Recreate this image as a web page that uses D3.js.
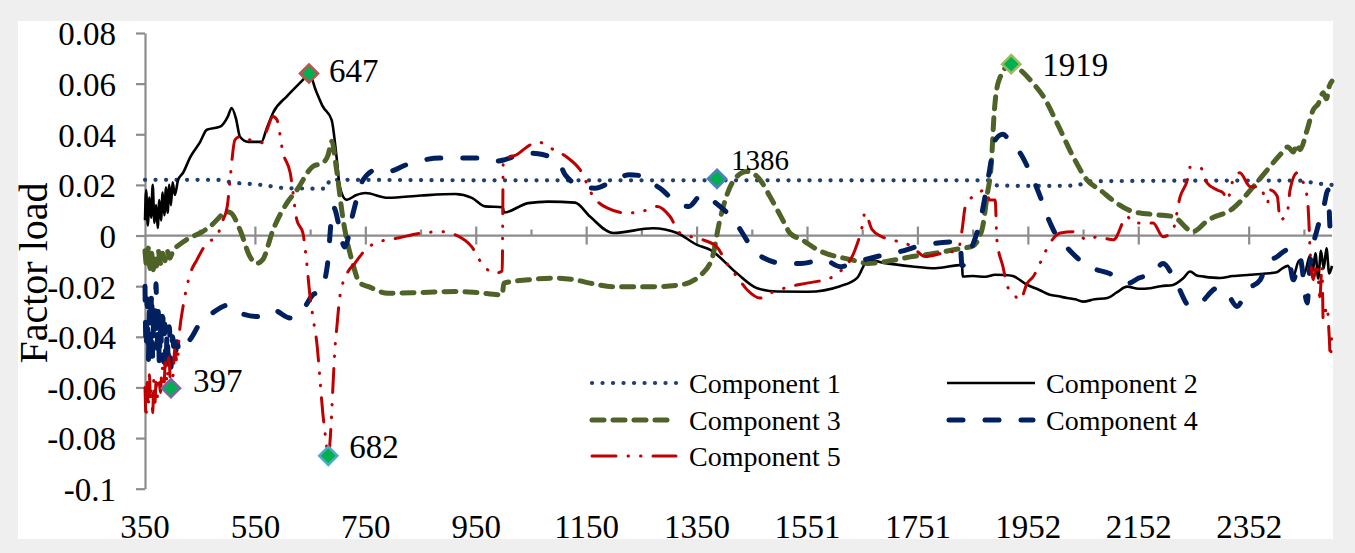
<!DOCTYPE html>
<html>
<head>
<meta charset="utf-8">
<script src="https://cdn.jsdelivr.net/npm/d3@7/dist/d3.min.js"></script>
<style>
  html, body { margin: 0; padding: 0; background: #efefef; }
  svg { display: block; }
  text { font-family: "Liberation Serif", "Times New Roman", serif; fill: #000; }
</style>
</head>
<body>
<script>
// Factor loadings of the five principal components over wavelength (nm)
const component1 = [[350,0.022],[480,0.022],[507,0.021],[561,0.020],[607,0.0187],[680,0.0185],[684,0.022],
  [1000,0.0218],[1400,0.0218],[1880,0.0218],[1893,0.0198],[1950,0.0196],[2038,0.0197],[2056,0.0214],
  [2300,0.0217],[2440,0.0217],[2470,0.0207],[2500,0.0200]];

const component2 = [[350,0.006],[352,0.018],[355,0.004],[358,0.015],[361,0.007],[364,0.020],[367,0.005],
  [370,0.012],[373,0.003],[376,0.014],[379,0.006],[382,0.017],[385,0.008],[388,0.019],[391,0.009],
  [394,0.020],[397,0.012],[400,0.021],[404,0.016],[410,0.022],[419,0.0248],[432,0.031],[450,0.037],
  [462,0.0418],[486,0.043],[500,0.047],[507,0.0504],[515,0.046],[522,0.039],[537,0.037],[561,0.037],
  [570,0.042],[582,0.0485],[607,0.055],[636,0.0615],[647,0.064],[660,0.057],[672,0.051],[688,0.0457],
  [697,0.031],[703,0.019],[715,0.0141],[733,0.016],[749,0.0168],[790,0.0149],[850,0.0158],[912,0.0164],
  [942,0.0149],[966,0.0115],[998,0.0112],[1000,0.0091],[1044,0.0128],[1080,0.0134],[1129,0.013],
  [1156,0.0075],[1198,0.001],[1270,0.0029],[1314,0.001],[1350,-0.0037],[1374,-0.0057],[1422,-0.0149],
  [1459,-0.0208],[1495,-0.0221],[1551,-0.0222],[1609,-0.020],[1640,-0.0167],[1660,-0.0096],
  [1691,-0.0109],[1740,-0.0122],[1781,-0.0129],[1830,-0.0116],[1831,-0.0162],[1850,-0.0160],
  [1872,-0.0163],[1890,-0.0155],[1908,-0.0156],[1922,-0.016],[1948,-0.0195],[1970,-0.0215],
  [1989,-0.0234],[2005,-0.0240],[2020,-0.0247],[2035,-0.0252],[2049,-0.0261],[2070,-0.0252],
  [2093,-0.0247],[2110,-0.0225],[2129,-0.0202],[2150,-0.0210],[2171,-0.0208],[2190,-0.0200],
  [2212,-0.0195],[2230,-0.0170],[2243,-0.0142],[2255,-0.0158],[2267,-0.0162],[2297,-0.0168],
  [2320,-0.0160],[2352,-0.0155],[2380,-0.0150],[2400,-0.0145],[2410,-0.0130],[2420,-0.012],
  [2430,-0.016],[2440,-0.010],[2450,-0.015],[2460,-0.008],[2465,-0.014],[2470,-0.007],[2475,-0.017],
  [2480,-0.006],[2485,-0.013],[2490,-0.005],[2495,-0.015],[2500,-0.012]];

const component3 = [[350,-0.006],[353,-0.012],[356,-0.005],[359,-0.013],[362,-0.007],[365,-0.0135],
  [368,-0.008],[371,-0.012],[374,-0.006],[378,-0.011],[382,-0.007],[386,-0.010],[390,-0.006],
  [395,-0.009],[401,-0.0057],[410,-0.004],[430,-0.001],[450,0.001],[470,0.004],[486,0.0075],
  [495,0.0095],[505,0.009],[522,0.0023],[540,-0.0083],[552,-0.011],[563,-0.0096],[582,0.0023],
  [607,0.0128],[625,0.018],[654,0.0273],[672,0.0287],[682,0.032],[688,0.0372],[697,0.026],
  [708,0.0075],[726,-0.0108],[739,-0.0187],[755,-0.0202],[790,-0.0228],[850,-0.0225],[912,-0.0221],
  [950,-0.0225],[997,-0.0234],[1000,-0.0188],[1044,-0.0175],[1093,-0.0168],[1129,-0.0175],
  [1156,-0.0188],[1198,-0.0202],[1270,-0.0202],[1319,-0.0195],[1360,-0.0149],[1378,-0.0083],
  [1390,0.0049],[1403,0.0154],[1422,0.0233],[1440,0.0253],[1464,0.022],[1482,0.0154],[1505,0.0062],
  [1518,0.001],[1540,-0.0017],[1569,-0.0057],[1630,-0.0096],[1660,-0.011],[1691,-0.0103],
  [1740,-0.0083],[1781,-0.007],[1830,-0.005],[1848,-0.0043],[1866,0.0023],[1875,0.0154],
  [1883,0.0286],[1888,0.048],[1897,0.0615],[1919,0.0677],[1935,0.0655],[1958,0.0603],[1977,0.055],
  [2002,0.0444],[2031,0.0312],[2056,0.022],[2080,0.018],[2110,0.0128],[2139,0.0095],[2182,0.0082],
  [2212,0.0075],[2248,0.0016],[2275,0.006],[2321,0.0108],[2358,0.0194],[2383,0.026],[2406,0.0319],
  [2420,0.035],[2430,0.033],[2436,0.036],[2442,0.0339],[2455,0.0418],[2466,0.0497],[2475,0.052],
  [2484,0.0564],[2490,0.054],[2495,0.059],[2500,0.061]];

const component4 = [[350,-0.020],[352,-0.045],[354,-0.025],[356,-0.050],[358,-0.030],[360,-0.042],
  [362,-0.022],[364,-0.048],[366,-0.028],[368,-0.040],[370,-0.019],[372,-0.045],[374,-0.030],
  [376,-0.051],[378,-0.033],[380,-0.044],[382,-0.028],[384,-0.050],[386,-0.035],[388,-0.053],
  [390,-0.038],[392,-0.048],[394,-0.036],[397,-0.052],[400,-0.040],[404,-0.049],[408,-0.042],
  [412,-0.046],[419,-0.044],[432,-0.041],[450,-0.0345],[472,-0.0306],[503,-0.0274],[522,-0.0306],
  [553,-0.032],[582,-0.0294],[613,-0.0326],[636,-0.0294],[654,-0.0234],[667,-0.0221],[680,-0.0123],
  [691,0.0113],[712,-0.0045],[727,0.009],[745,0.022],[770,0.026],[790,0.0253],[824,0.028],
  [884,0.0306],[951,0.0306],[980,0.0292],[1002,0.030],[1038,0.0326],[1062,0.0323],[1100,0.0286],
  [1111,0.024],[1142,0.0194],[1165,0.0187],[1201,0.022],[1227,0.024],[1256,0.0233],[1274,0.020],
  [1287,0.018],[1310,0.0134],[1335,0.0115],[1358,0.016],[1386,0.0125],[1416,0.0062],[1453,-0.0057],
  [1471,-0.0089],[1507,-0.011],[1538,-0.011],[1580,-0.0096],[1609,-0.0123],[1640,-0.0103],
  [1689,-0.0076],[1718,-0.0063],[1750,-0.0043],[1826,-0.0024],[1830,-0.012],[1840,-0.0083],
  [1866,0.009],[1879,0.0248],[1890,0.0378],[1904,0.040],[1922,0.0352],[1933,0.0332],[1951,0.026],
  [1969,0.0168],[1987,0.0062],[2000,0.0003],[2018,-0.0043],[2036,-0.0083],[2060,-0.0123],
  [2096,-0.0149],[2132,-0.0188],[2150,-0.0168],[2176,-0.0149],[2194,-0.011],[2218,-0.0188],
  [2243,-0.028],[2261,-0.0267],[2292,-0.0208],[2310,-0.0228],[2328,-0.028],[2346,-0.0215],
  [2370,-0.0175],[2383,-0.011],[2401,-0.0083],[2419,-0.0057],[2430,-0.0175],[2442,-0.009],
  [2455,-0.0266],[2460,-0.012],[2473,0.0023],[2484,0.0102],[2493,0.018],[2497,0.002],[2500,0.006]];

const component5 = [[350,-0.060],[352,-0.072],[354,-0.058],[356,-0.068],[358,-0.055],[360,-0.065],
  [362,-0.060],[364,-0.070],[366,-0.057],[368,-0.066],[370,-0.058],[372,-0.064],[375,-0.056],
  [378,-0.062],[381,-0.052],[384,-0.060],[387,-0.050],[390,-0.058],[393,-0.048],[397,-0.0603],
  [401,-0.055],[404,-0.045],[408,-0.0503],[413,-0.037],[419,-0.028],[432,-0.015],[444,-0.0096],
  [462,-0.003],[480,-0.0005],[489,0.005],[499,0.0115],[504,0.022],[513,0.0378],[522,0.039],
  [540,0.0378],[562,0.0366],[571,0.0418],[582,0.047],[589,0.0457],[600,0.0327],[613,0.0248],
  [625,0.0062],[636,0.001],[643,-0.011],[649,-0.0242],[654,-0.032],[662,-0.044],[667,-0.057],
  [672,-0.070],[677,-0.0795],[682,-0.087],[687,-0.075],[691,-0.057],[694,-0.045],[698,-0.035],
  [703,-0.024],[716,-0.015],[730,-0.011],[749,-0.0057],[767,-0.003],[808,-0.001],[852,0.001],
  [888,0.0015],[912,0.0003],[942,-0.0045],[960,-0.011],[984,-0.0149],[997,-0.014],[999,0.030],
  [1024,0.032],[1042,0.035],[1062,0.037],[1084,0.0346],[1114,0.031],[1138,0.026],[1162,0.0154],
  [1187,0.0109],[1223,0.0089],[1247,0.0093],[1278,0.0115],[1301,0.0075],[1319,0.001],[1361,-0.0017],
  [1386,-0.0045],[1404,-0.011],[1422,-0.0162],[1441,-0.0215],[1464,-0.0247],[1482,-0.0228],
  [1518,-0.0202],[1549,-0.0188],[1591,-0.0168],[1609,-0.0142],[1636,-0.0057],[1649,0.0036],
  [1654,0.009],[1667,0.0023],[1685,-0.0005],[1703,-0.0017],[1739,-0.0043],[1763,-0.0083],
  [1794,-0.007],[1823,-0.0057],[1830,0.0023],[1836,0.0115],[1859,0.0168],[1872,0.018],[1880,0.014],
  [1890,0.014],[1893,-0.0017],[1904,-0.0123],[1912,-0.020],[1922,-0.0228],[1935,-0.0254],
  [1948,-0.0188],[1959,-0.0162],[1971,-0.011],[1989,-0.003],[2008,0.001],[2031,0.0015],
  [2057,-0.0017],[2075,-0.0005],[2104,-0.0017],[2129,0.0075],[2140,0.005],[2176,0.005],
  [2194,-0.0005],[2212,0.0023],[2225,0.0154],[2238,0.022],[2243,0.027],[2261,0.027],[2274,0.0207],
  [2292,0.018],[2303,0.0168],[2310,0.014],[2321,0.022],[2333,0.0248],[2352,0.0193],[2370,0.0193],
  [2383,0.0128],[2388,0.018],[2401,0.0154],[2406,0.0062],[2419,0.009],[2424,0.018],[2437,0.0248],
  [2442,0.0233],[2455,0.0154],[2458,0.0062],[2460,-0.0043],[2466,-0.0175],[2473,-0.011],
  [2478,-0.0242],[2482,-0.012],[2484,-0.0334],[2491,-0.028],[2495,-0.040],[2497,-0.048],[2500,-0.037]];

const seriesNames = ["Component 1", "Component 2", "Component 3", "Component 4", "Component 5"];

// Highlighted extremes: wavelength, loading, outline colour
const peakWave = [397, 647, 682, 1386, 1919];
const peakLoad = [-0.0603, 0.064, -0.087, 0.0224, 0.0677];
const peakEdge = ["#8064a2", "#c0504d", "#4bacc6", "#4f81bd", "#9bbb59"];

const xTickValues = [350, 550, 750, 950, 1150, 1350, 1550, 1750, 1950, 2150, 2350];
const xTickLabels = ["350", "550", "750", "950", "1150", "1350", "1551", "1751", "1952", "2152", "2352"];
const yTickValues = [0.08, 0.06, 0.04, 0.02, 0, -0.02, -0.04, -0.06, -0.08, -0.1];
const yTickLabels = ["0.08", "0.06", "0.04", "0.02", "0", "-0.02", "-0.04", "-0.06", "-0.08", "-0.1"];

const W = 1355, H = 553;
const serif = "'Liberation Serif', 'Times New Roman', serif";
const svg = d3.select("body").append("svg").attr("width", W).attr("height", H)
  .attr("font-family", serif);

svg.append("rect").attr("width", W).attr("height", H).attr("fill", "#efefef");
svg.append("rect").attr("x", 18).attr("y", 21).attr("width", 1315).attr("height", 518).attr("fill", "#ffffff");

const x = d3.scaleLinear().domain([350, 2500]).range([145, 1332]);
const y = d3.scaleLinear().domain([-0.1, 0.08]).range([488.7, 33]);

const axisColor = "#8c8c8c";

// Y axis with outward ticks
const yAxis = svg.append("g").attr("transform", `translate(${x(350)},0)`)
  .call(d3.axisLeft(y).tickValues(yTickValues).tickSize(9).tickSizeOuter(0).tickPadding(20)
    .tickFormat((d, i) => yTickLabels[i]));
yAxis.attr("font-family", serif).attr("font-size", 33);
yAxis.select(".domain").attr("stroke", axisColor).attr("stroke-width", 2.2);
yAxis.selectAll(".tick line").attr("stroke", axisColor).attr("stroke-width", 2.2);
yAxis.selectAll(".tick text").attr("dy", "0.36em").attr("fill", "#000");

// X axis drawn along zero loading, major ticks crossing, minor ticks above
const zeroY = y(0);
const majorTicks = xTickValues.slice(1);
const minorTicks = d3.range(450, 2500, 200);
const xAxisG = svg.append("g");
xAxisG.append("line").attr("x1", x(350)).attr("x2", x(2500)).attr("y1", zeroY).attr("y2", zeroY)
  .attr("stroke", axisColor).attr("stroke-width", 2.2);
xAxisG.selectAll(".major").data(majorTicks).join("line").attr("class", "major")
  .attr("x1", d => x(d)).attr("x2", d => x(d)).attr("y1", zeroY - 9).attr("y2", zeroY + 9)
  .attr("stroke", axisColor).attr("stroke-width", 2.2);
xAxisG.selectAll(".minor").data(minorTicks).join("line").attr("class", "minor")
  .attr("x1", d => x(d)).attr("x2", d => x(d)).attr("y1", zeroY - 6).attr("y2", zeroY)
  .attr("stroke", axisColor).attr("stroke-width", 2.2);
svg.append("g").selectAll("text").data(xTickValues).join("text")
  .attr("x", d => x(d)).attr("y", 538).attr("text-anchor", "middle").attr("font-size", 33)
  .text((d, i) => xTickLabels[i]);

// Axis title
svg.append("text").attr("transform", "translate(47,273) rotate(-90)")
  .attr("text-anchor", "middle").attr("font-size", 40).text("Factor load");

// Line styles per component
const styles = [
  { color: "#1f3f70", width: 4.2, dash: "0.1 10.4", cap: "round" },
  { color: "#000000", width: 2.6, dash: null, cap: "butt" },
  { color: "#4f6228", width: 5, dash: "12 9", cap: "round" },
  { color: "#002060", width: 5, dash: "14 22", cap: "round" },
  { color: "#c00000", width: 3, dash: "24 12 0.5 12 0.5 12", cap: "round" }
];
const seriesData = [component1, component2, component3, component4, component5];

const line = d3.line().x(d => x(d[0])).y(d => y(d[1])).curve(d3.curveMonotoneX);

const plot = svg.append("g");
seriesData.forEach((data, i) => {
  const s = styles[i];
  plot.append("path").datum(data).attr("d", line)
    .attr("fill", "none").attr("stroke", s.color).attr("stroke-width", s.width)
    .attr("stroke-linecap", s.cap).attr("stroke-linejoin", "round")
    .attr("stroke-dasharray", s.dash);
});

// Marked extremes with their wavelength labels
const peaks = peakWave.map((w, i) => ({ w, v: peakLoad[i], edge: peakEdge[i] }));
const diamond = d3.symbol().type(d3.symbolDiamond2).size(210);
svg.append("g").selectAll("path").data(peaks).join("path")
  .attr("transform", d => `translate(${x(d.w)},${y(d.v)})`)
  .attr("d", diamond).attr("fill", "#00b050").attr("stroke", d => d.edge).attr("stroke-width", 2.5);

const labelShift = { 397: [22, 4], 647: [20, 8], 682: [21, 2], 1386: [14, -9], 1919: [31, 12] };
svg.append("g").selectAll("text").data(peaks).join("text")
  .attr("x", d => x(d.w) + labelShift[d.w][0])
  .attr("y", d => y(d.v) + labelShift[d.w][1])
  .attr("font-size", d => d.w === 1386 ? 29 : 33)
  .text(d => d.w);

// Legend in two columns
const legendPos = [[590, 383], [947, 383], [590, 420], [947, 420], [590, 456]];
const legend = svg.append("g");
seriesNames.forEach((name, i) => {
  const [lx, ly] = legendPos[i];
  const s = styles[i];
  legend.append("line").attr("x1", lx + (s.cap === "round" ? 2 : 0)).attr("x2", lx + 88 - (s.cap === "round" ? 2 : 0))
    .attr("y1", ly).attr("y2", ly)
    .attr("stroke", s.color).attr("stroke-width", s.width).attr("stroke-linecap", s.cap)
    .attr("stroke-dasharray", s.dash);
  legend.append("text").attr("x", lx + 99).attr("y", ly + 10).attr("font-size", 28).text(name);
});
</script>
</body>
</html>
